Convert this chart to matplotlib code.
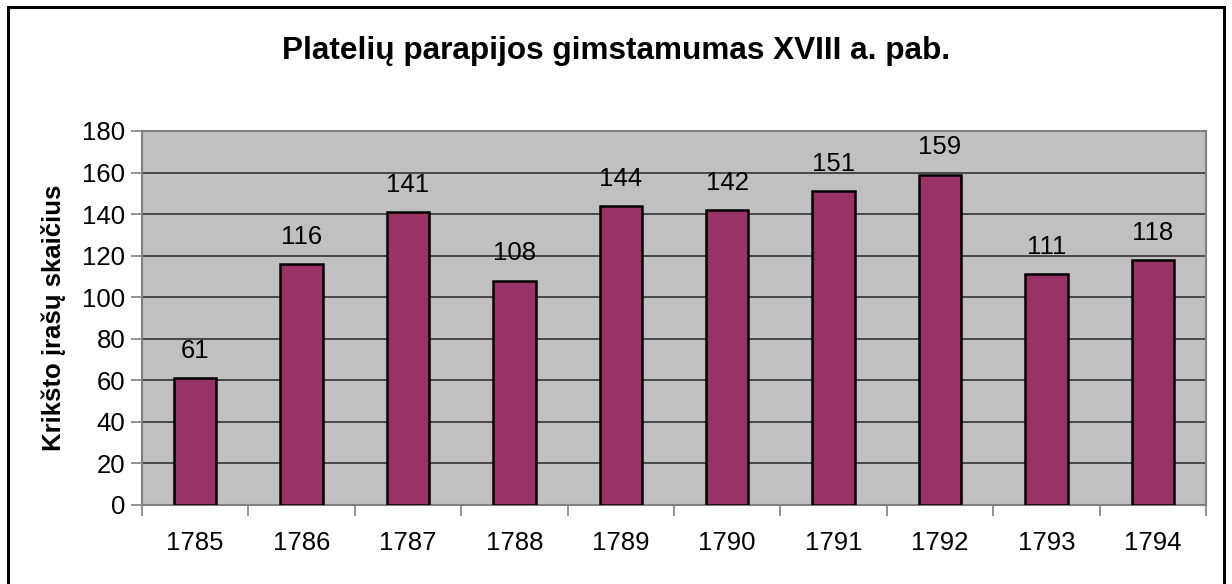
import matplotlib

matplotlib.use("Agg")

import matplotlib.pyplot as plt
import numpy as np
from matplotlib.patches import Rectangle

plt.rcParams["font.family"] = ["Liberation Sans", "DejaVu Sans"]

years = ["1785", "1786", "1787", "1788", "1789", "1790", "1791", "1792", "1793", "1794"]
births = [61, 116, 141, 108, 144, 142, 151, 159, 111, 118]

title = "Platelių parapijos gimstamumas XVIII a. pab."
ylabel = "Krikšto įrašų skaičius"

W, H = 1232, 584
fig = plt.figure(figsize=(W / 100, H / 100), dpi=100)
fig.patch.set_facecolor("white")

# chart frame; its bottom edge falls below the picture
fig.patches.append(Rectangle((8 / W, -10 / H), (1224 - 8) / W, (577 + 10) / H,
                             transform=fig.transFigure, facecolor="none",
                             edgecolor="black", linewidth=2.2))

left, right, top, bottom = 142, 1206, 131, 505
ax = fig.add_axes([left / W, (H - bottom) / H, (right - left) / W, (bottom - top) / H])
ax.set_facecolor("#C0C0C0")

fs = 18.5
x = np.arange(len(years))
ax.bar(x, births, width=0.4, color="#993366", edgecolor="black", linewidth=1.8, zorder=3)
for xi, v in zip(x, births):
    ax.annotate(str(v), (xi, v), xytext=(0, 11), textcoords="offset points",
                ha="center", va="bottom", fontsize=fs, zorder=4)

ax.set_xlim(-0.5, len(years) - 0.5)
ax.set_ylim(0, 180)
ax.set_yticks(np.arange(0, 181, 20))
ax.yaxis.grid(True, color="#333333", linewidth=1.2, zorder=1)
ax.set_axisbelow(True)

ax.set_xticks(x)
ax.set_xticklabels(years, fontsize=fs)
ax.set_xticks(np.arange(-0.5, len(years), 1), minor=True)
ax.tick_params(axis="x", which="major", length=0, pad=19)
ax.tick_params(axis="x", which="minor", length=8, width=1.2, color="#808080")
ax.tick_params(axis="y", length=8, width=1.2, color="#808080", labelsize=fs, pad=4)

for side in ax.spines.values():
    side.set_color("#808080")
    side.set_linewidth(1.5)

ax.set_ylabel(ylabel, fontsize=fs, fontweight="bold", labelpad=12)
fig.text(616 / W, 1 - 59 / H, title, ha="center", va="baseline",
         fontsize=22.7, fontweight="bold")

fig.savefig("out.png", dpi=100)
